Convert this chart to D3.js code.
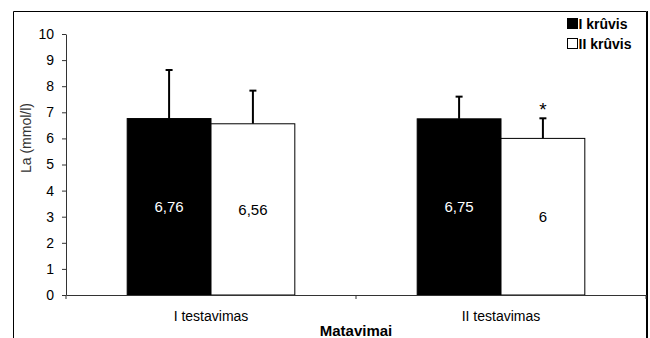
<!DOCTYPE html>
<html><head><meta charset="utf-8">
<script src="https://cdn.jsdelivr.net/npm/d3@7"></script>
<style>body{margin:0;background:#fff;} svg{display:block;font-family:"Liberation Sans",Arial,sans-serif;}</style>
</head><body>
<svg id="c" width="650" height="338"></svg>
<script>
const categories = ["I testavimas", "II testavimas"];
const series = ["I krûvis", "II krûvis"];
const seriesColors = ["#000000", "#ffffff"];
const values = [[6.76, 6.56], [6.75, 6.0]];
const errors = [[1.86, 1.27], [0.85, 0.77]];
const labels = [["6,76", "6,56"], ["6,75", "6"]];
const marks = [["", ""], ["", "*"]];
const yTicks = [0,1,2,3,4,5,6,7,8,9,10];

const svg = d3.select("#c");
const L = 66, R = 646, T = 34, B = 295;
const x = d3.scaleBand().domain(categories).range([L, R]).padding(0);
const xs = d3.scaleBand().domain(series).range([0, x.bandwidth()]).paddingInner(0).paddingOuter(0.73);
const y = d3.scaleLinear().domain([0, 10]).range([B, T]);

// outer border
svg.append("path").attr("d", "M13.5,345V11.5H646.5V345")
  .attr("fill", "none").attr("stroke", "#000").attr("stroke-width", 1);
svg.append("line").attr("x1", 647.5).attr("x2", 647.5).attr("y1", 11).attr("y2", 345)
  .attr("stroke", "#000").attr("stroke-width", 1);

// bars
const g = svg.append("g");
categories.forEach((c, i) => {
  series.forEach((s, j) => {
    const bx = x(c) + xs(s), bw = xs.bandwidth();
    const v = values[i][j], e = errors[i][j];
    const cx = bx + bw / 2;
    g.append("line").attr("x1", cx).attr("x2", cx).attr("y1", y(v)).attr("y2", y(v + e))
      .attr("stroke", "#000").attr("stroke-width", 2);
    g.append("line").attr("x1", cx - 3.5).attr("x2", cx + 3.5).attr("y1", y(v + e)).attr("y2", y(v + e))
      .attr("stroke", "#000").attr("stroke-width", 2);
    g.append("rect").attr("x", bx).attr("y", y(v)).attr("width", bw).attr("height", y(0) - y(v))
      .attr("fill", seriesColors[j]).attr("stroke", "#000").attr("stroke-width", 1);
    g.append("text").attr("x", cx).attr("y", y(v / 2)).attr("dy", "0.35em")
      .attr("text-anchor", "middle").attr("font-size", 15)
      .attr("fill", j === 0 ? "#fff" : "#000").text(labels[i][j]);
    if (marks[i][j]) {
      g.append("text").attr("x", cx).attr("y", y(v + e) - 2)
        .attr("text-anchor", "middle").attr("font-size", 19).text(marks[i][j]);
    }
  });
});

// y axis
const ya = svg.append("g").attr("transform", `translate(${L},0)`)
  .call(d3.axisLeft(y).tickValues(yTicks).tickSize(4).tickPadding(8).tickSizeOuter(0));
ya.select(".domain").attr("stroke", "#333");
ya.selectAll(".tick line").attr("stroke", "#333");
ya.selectAll("text").attr("font-size", 14).attr("fill", "#000").attr("font-family", "Liberation Sans, Arial, sans-serif");

// x axis
const xa = svg.append("g").attr("transform", `translate(0,${B})`)
  .call(d3.axisBottom(x).tickSize(0).tickPadding(16));
xa.select(".domain").attr("stroke", "#333");
xa.selectAll("text").attr("font-size", 14).attr("fill", "#000").attr("font-family", "Liberation Sans, Arial, sans-serif");
const bounds = [L, ...categories.slice(1).map(c => x(c)), R];
xa.selectAll(".bt").data(bounds).enter().append("line").attr("class", "bt")
  .attr("x1", d => d).attr("x2", d => d).attr("y1", 0).attr("y2", 4).attr("stroke", "#333");

// axis titles
svg.append("text").attr("transform", `translate(31,${138}) rotate(-90)`)
  .attr("text-anchor", "middle").attr("font-size", 14).attr("fill", "#333").text("La (mmol/l)");
svg.append("text").attr("x", (L + R) / 2).attr("y", 336).attr("text-anchor", "middle")
  .attr("font-size", 15).attr("font-weight", "bold").text("Matavimai");

// legend
const lg = svg.append("g");
series.forEach((s, j) => {
  const ly = 24 + j * 20;
  lg.append("rect").attr("x", 567.5).attr("y", ly - 5.5).attr("width", 10).attr("height", 10)
    .attr("fill", seriesColors[j]).attr("stroke", "#000").attr("stroke-width", 1);
  lg.append("text").attr("x", 578.5).attr("y", ly).attr("dy", "0.36em").attr("font-size", 14)
    .attr("font-weight", "bold").text(s);
});
</script>
</body></html>
